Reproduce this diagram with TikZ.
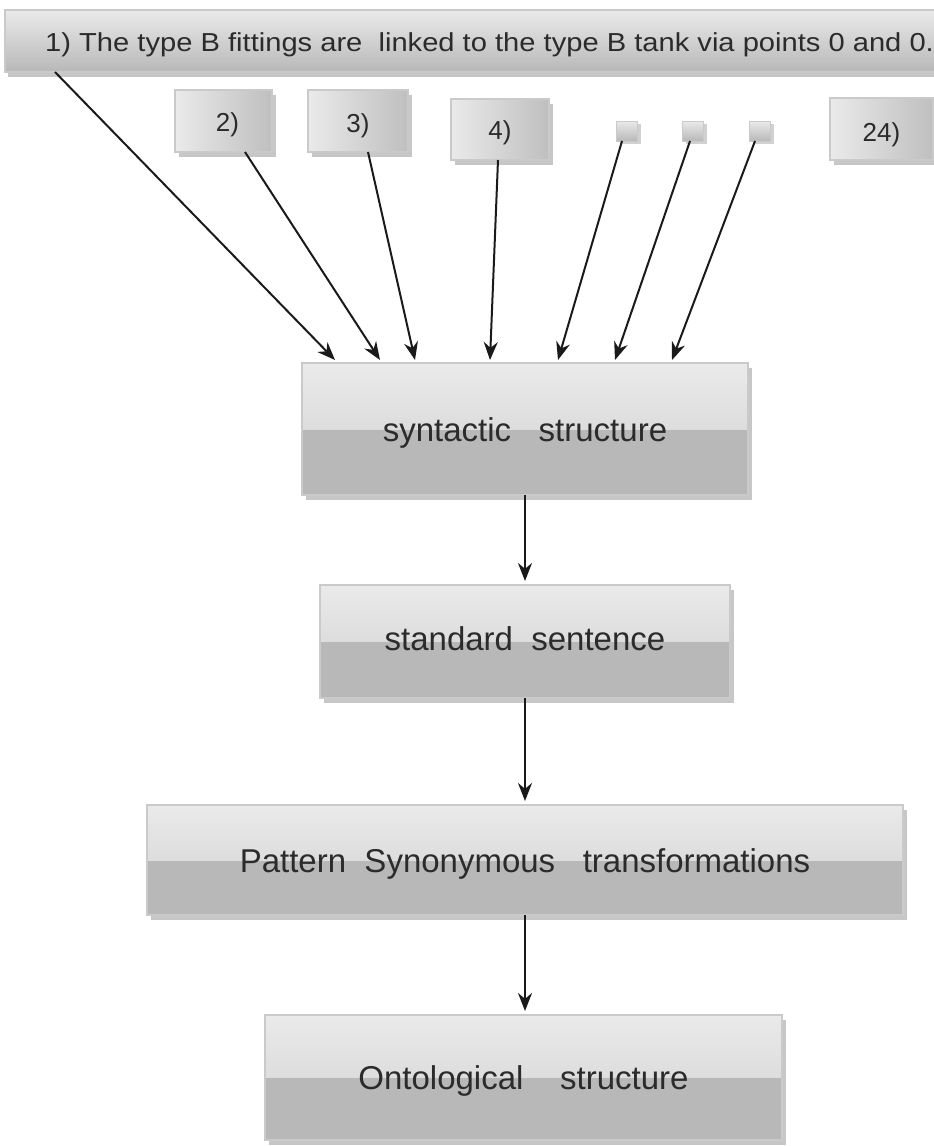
\documentclass[tikz,border=0pt]{standalone}
\usepackage{fontspec}
\setmainfont{Liberation Sans}
\usetikzlibrary{arrows.meta,shadows}
\definecolor{boxtop}{HTML}{EAEAEA}
\definecolor{boxmid}{HTML}{D0D0D0}
\definecolor{boxlow}{HTML}{B8B8B8}
\definecolor{boxborder}{HTML}{CACACA}
\definecolor{txt}{HTML}{2B2B2B}
\definecolor{arr}{HTML}{1A1A1A}
\newcommand\lowtext[2]{\smash{\raisebox{-#1}{#2}}}
\begin{document}
\begin{tikzpicture}[x=1pt,y=1pt]
\useasboundingbox (0,0) rectangle (934,-1146);
\tikzset{
 gbase/.style={draw=boxborder, line width=1.8pt, fill=boxlow, inner sep=0pt, outer sep=0pt,
   path picture={\shade[top color=boxtop,bottom color=boxmid] (path picture bounding box.north west) rectangle (path picture bounding box.east);},
   text=txt},
 gbox/.style={gbase, drop shadow={shadow xshift=4pt,shadow yshift=-5pt,fill=black,opacity=0.22}},
 mainbox/.style={gbox, font=\fontsize{33}{40}\selectfont},
 smallbox/.style={draw=boxborder, line width=1.2pt, inner sep=0pt, outer sep=0pt,
   shading=axis, shading angle=30, left color=boxtop, right color=boxlow!90!white,
   drop shadow={shadow xshift=4pt,shadow yshift=-5pt,fill=black,opacity=0.22},
   text=txt, font=\fontsize{26}{30}\selectfont},
 tinybox/.style={draw=boxborder, line width=0.6pt, inner sep=0pt, outer sep=0pt,
   minimum width=21pt, minimum height=20pt, top color=boxtop, bottom color=boxlow,
   drop shadow={shadow xshift=3pt,shadow yshift=-3pt,fill=black,opacity=0.18}},
 barbox/.style={draw=boxborder, line width=1.2pt, inner sep=0pt, outer sep=0pt,
   top color=boxtop, bottom color=boxlow,
   drop shadow={shadow xshift=3pt,shadow yshift=-5pt,fill=black,opacity=0.22}},
 conn/.style={draw=arr, line width=2pt, -{Stealth[length=18pt,width=14pt]}},
}
% top bar
\node[barbox, minimum width=945pt, minimum height=62pt] (bar) at (477.5,-41) {};
\node[anchor=west, text=txt, font=\fontsize{26}{30}\selectfont, inner sep=0pt, xscale=1.12] (bartext) at (45,-45)
  {1) The type B fittings are\ \ linked to the type B tank via points 0 and 0.};
% small boxes
\node[smallbox, minimum width=97pt, minimum height=62pt] (b2) at (223.5,-121) {\hspace{8pt}\lowtext{10pt}{2)}};
\node[smallbox, minimum width=100pt, minimum height=62pt] (b3) at (358,-121) {\lowtext{11pt}{3)}};
\node[smallbox, minimum width=98pt, minimum height=61pt] (b4) at (500,-129.5) {\lowtext{10pt}{4)}};
\node[smallbox, minimum width=103pt, minimum height=62pt] (b24) at (881.5,-129) {\lowtext{12pt}{24)}};
\node[tinybox] (t1) at (627,-131) {};
\node[tinybox] (t2) at (693,-131) {};
\node[tinybox] (t3) at (760,-131) {};
% main boxes
\node[mainbox, minimum width=446pt, minimum height=132pt] (syn) at (525,-429) {\lowtext{12pt}{syntactic\ \ \ structure}};
\node[mainbox, minimum width=410pt, minimum height=113pt] (std) at (525,-641.5) {\lowtext{9pt}{standard\ \ sentence}};
\node[mainbox, minimum width=756pt, minimum height=110pt] (pat) at (525,-860) {\lowtext{12pt}{Pattern\ \ Synonymous\ \ \ transformations}};
\node[mainbox, minimum width=517pt, minimum height=125pt] (ont) at (523.5,-1077.5) {\lowtext{12pt}{Ontological\ \ \ \ structure}};
% connectors into syntactic structure
\draw[conn] ([xshift=50pt]bar.south west) -- ([xshift=33pt,yshift=3pt]syn.north west);
\draw[conn] ([xshift=21.5pt]b2.south) -- ([xshift=78pt,yshift=3pt]syn.north west);
\draw[conn] ([xshift=10pt]b3.south) -- ([xshift=113pt,yshift=3pt]syn.north west);
\draw[conn] ([xshift=-2pt]b4.south) -- ([xshift=188pt,yshift=3pt]syn.north west);
\draw[conn] ([xshift=-5pt]t1.south) -- ([xshift=256pt,yshift=3pt]syn.north west);
\draw[conn] ([xshift=-3pt]t2.south) -- ([xshift=313pt,yshift=3pt]syn.north west);
\draw[conn] ([xshift=-5pt]t3.south) -- ([xshift=370pt,yshift=3pt]syn.north west);
% vertical chain
\draw[conn] (syn.south) -- ([yshift=4pt]std.north);
\draw[conn] (std.south) -- ([yshift=4pt]pat.north);
\draw[conn] (pat.south) -- ([yshift=4pt]pat.south |- ont.north);
\end{tikzpicture}
\end{document}
